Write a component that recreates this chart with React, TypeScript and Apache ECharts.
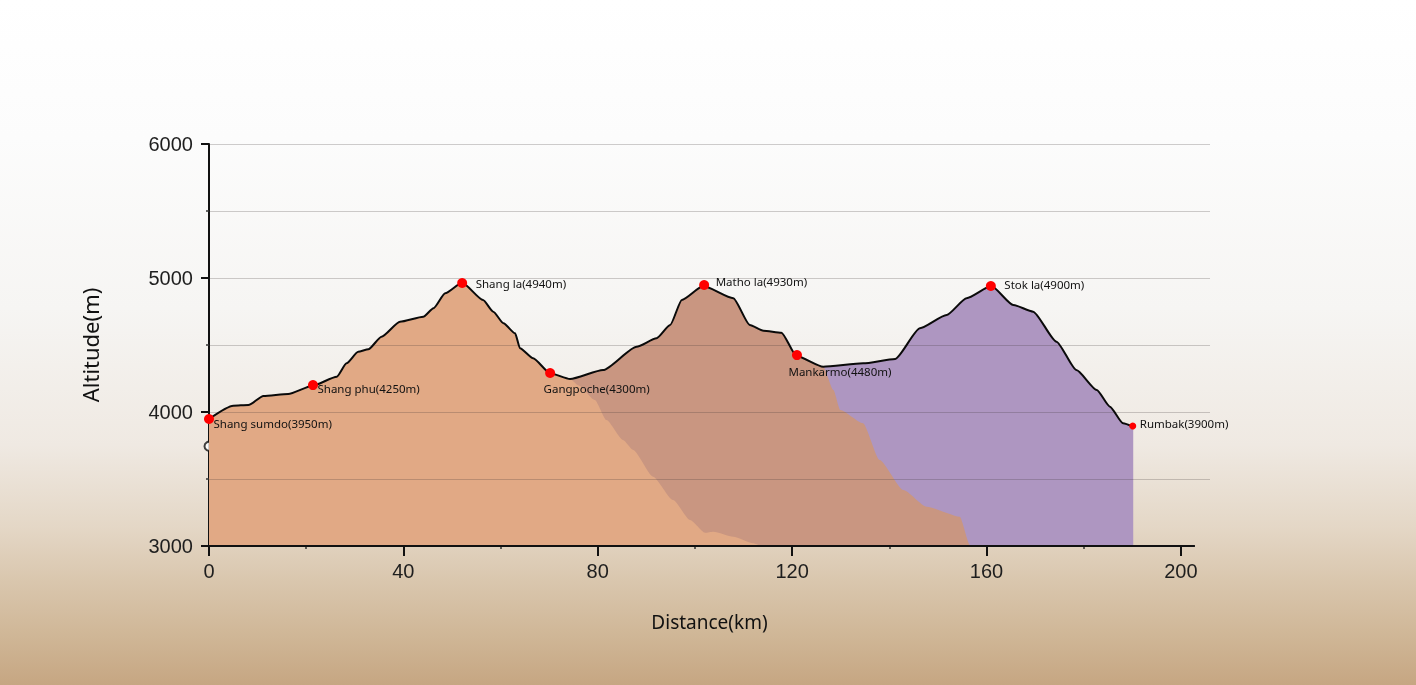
import React, { useEffect, useRef } from 'react';
import * as echarts from 'echarts';

// Elevation profile (km, m)
const profileKm = [0, 5.0, 8.1, 11.2, 16.3, 21.3, 26.3, 28.3, 30.7, 32.8, 35.5, 39.3, 44.1, 46.2, 48.6, 52.1, 56.4, 58.5, 60.6, 63.0, 64.0, 66.7, 70.2, 74.3, 81.1, 88.0, 92.1, 94.9, 97.3, 101.7, 107.9, 111.3, 114.1, 117.8, 120.9, 126.4, 134.6, 141.2, 146.3, 151.8, 155.9, 161.0, 165.5, 169.6, 174.4, 178.5, 182.7, 185.4, 188.1, 190.2];
const profileAlt = [3948, 4047, 4052, 4119, 4134, 4196, 4263, 4363, 4450, 4468, 4562, 4674, 4711, 4774, 4886, 4965, 4836, 4749, 4662, 4587, 4475, 4401, 4289, 4246, 4313, 4487, 4550, 4649, 4836, 4940, 4849, 4649, 4607, 4592, 4418, 4338, 4363, 4396, 4625, 4724, 4849, 4940, 4799, 4749, 4525, 4313, 4164, 4040, 3916, 3890];

// Lower edges of the shaded mountain bands
const orangeEdgeKm = [76.0, 79.4, 81.8, 85.2, 87.3, 91.4, 95.5, 99.0, 102.1, 103.8, 107.9, 112.0, 113.4];
const orangeEdgeAlt = [4200, 4090, 3940, 3791, 3716, 3517, 3343, 3194, 3099, 3107, 3069, 3020, 3000];
const brownEdgeKm = [128.5, 129.9, 134.6, 138.0, 142.9, 147.7, 154.5, 156.6, 156.8];
const brownEdgeAlt = [4164, 4015, 3916, 3642, 3418, 3293, 3219, 3007, 3000];

// Waypoints
const waypointNames = ['Shang sumdo', 'Shang phu', 'Shang la', 'Gangpoche', 'Matho la', 'Mankarmo', 'Stok la', 'Rumbak'];
const waypointLabelAlt = [3950, 4250, 4940, 4300, 4930, 4480, 4900, 3900];
const waypointKm = [0, 21.4, 52.1, 70.2, 101.9, 121.0, 160.9, 190.1];
const waypointAlt = [3948, 4201, 4963, 4291, 4948, 4425, 4940, 3896];

// Axis ticks / grid
const xTicks = [0, 40, 80, 120, 160, 200];
const gridAlts = [3500, 4000, 4500, 5000, 5500, 6000];
const startRingKm = [0];
const startRingAlt = [3745];

// layout (not data)
const X_MAX = 206;
const X_AXIS_END = 202.9;
const labelPos: number[][] = [[9.5, 3.5], [9.5, 2.5], [18.5, -0.5], [-1.5, 14.5], [16.5, -4.5], [-3.5, 15.5], [18.5, -2.5], [10.5, -4.5]];
const symbolSizes = [10, 10, 10, 10, 10, 10, 10, 7];

const pairs = (xs: number[], ys: number[]) => xs.map((x, i) => [x, ys[i]]);

export default function App() {
  const ref = useRef<HTMLDivElement>(null);
  useEffect(() => {
    if (!ref.current) return;
    const chart = echarts.init(ref.current, undefined, { renderer: 'svg' });
    const profile = pairs(profileKm, profileAlt);
    const orangeArea = pairs(profileKm.slice(0, 24), profileAlt.slice(0, 24)).concat(pairs(orangeEdgeKm, orangeEdgeAlt));
    const brownArea = pairs(profileKm.slice(0, 36), profileAlt.slice(0, 36)).concat(pairs(brownEdgeKm, brownEdgeAlt));
    const areaSeries = (name: string, data: number[][], color: string) => ({
      name,
      type: 'line',
      data,
      z: 2,
      silent: true,
      showSymbol: false,
      symbol: 'none',
      smooth: 0.2,
      smoothMonotone: 'x',
      lineStyle: { width: 0, opacity: 0 },
      areaStyle: { color, opacity: 1 },
    });
    chart.setOption({
      animation: false,
      graphic: [
        {
          type: 'rect',
          z: -100,
          silent: true,
          shape: { x: 0, y: 0, width: 1416, height: 685 },
          style: {
            fill: new echarts.graphic.LinearGradient(0, 0, 0, 1, [
              { offset: 0, color: '#ffffff' },
              { offset: 0.2, color: '#fcfcfc' },
              { offset: 0.45, color: '#f6f5f3' },
              { offset: 0.65, color: '#efe9e2' },
              { offset: 0.77, color: '#e4d7c6' },
              { offset: 0.85, color: '#d9c6ad' },
              { offset: 0.93, color: '#cfb696' },
              { offset: 1, color: '#c6a682' },
            ]),
          },
        },
      ],
      grid: { left: 209, top: 144, width: 1001, height: 402 },
      xAxis: {
        type: 'value',
        min: 0,
        max: X_MAX,
        interval: 40,
        name: 'Distance(km)',
        nameLocation: 'middle',
        nameGap: 66,
        nameTextStyle: { fontFamily: 'Noto Sans', fontSize: 19, color: '#111' },
        axisLine: { show: false },
        axisTick: { show: true, customValues: xTicks, length: 10, inside: false, lineStyle: { color: '#111', width: 2 } },
        minorTick: { show: true, splitNumber: 2, length: 3, lineStyle: { color: '#333', width: 1.5 } },
        axisLabel: { customValues: xTicks, margin: 15, fontFamily: 'Liberation Sans', fontSize: 20, color: '#1e1e1e', formatter: (v: number) => String(v) },
        splitLine: { show: false },
      },
      yAxis: {
        type: 'value',
        min: 3000,
        max: 6000,
        interval: 1000,
        name: 'Altitude(m)',
        nameLocation: 'middle',
        nameGap: 108,
        nameTextStyle: { fontFamily: 'Noto Sans', fontSize: 22, color: '#111' },
        axisLine: { show: true, lineStyle: { color: '#111', width: 2 } },
        axisTick: { show: true, length: 8, lineStyle: { color: '#111', width: 2 } },
        minorTick: { show: true, splitNumber: 2, length: 3, lineStyle: { color: '#333', width: 1.5 } },
        axisLabel: { margin: 16, fontFamily: 'Liberation Sans', fontSize: 20, color: '#1e1e1e', formatter: (v: number) => String(v) },
        splitLine: { show: false },
      },
      series: [
        {
          name: 'ring',
          type: 'scatter',
          z: 1,
          silent: true,
          symbol: 'emptyCircle',
          symbolSize: 9,
          itemStyle: { color: '#111', borderColor: '#111', borderWidth: 1.6 },
          data: pairs(startRingKm, startRingAlt),
        },
        areaSeries('purple', profile, '#ae96c1'),
        areaSeries('brown', brownArea, '#c99681'),
        areaSeries('orange', orangeArea, '#e1a985'),
        {
          name: 'grid',
          type: 'line',
          data: [],
          silent: true,
          markLine: {
            z: 3,
            silent: true,
            symbol: 'none',
            label: { show: false },
            lineStyle: { color: 'rgba(60,50,50,0.24)', width: 1.2, type: 'solid' },
            data: [
              ...gridAlts.map((v) => ({ yAxis: v })),
              [
                { coord: [0, 3000], lineStyle: { color: '#111', width: 2, type: 'solid' } },
                { coord: [X_AXIS_END, 3000] },
              ],
            ],
          },
        },
        {
          name: 'profile',
          type: 'line',
          data: profile,
          z: 4,
          silent: true,
          showSymbol: false,
          symbol: 'none',
          smooth: 0.2,
          smoothMonotone: 'x',
          lineStyle: { color: '#0a0a0a', width: 2 },
        },
        {
          name: 'waypoints',
          type: 'scatter',
          z: 5,
          silent: true,
          data: waypointNames.map((n, i) => ({
            name: n,
            value: [waypointKm[i], waypointAlt[i]],
            symbolSize: symbolSizes[i],
            label: { position: labelPos[i] },
          })),
          itemStyle: { color: '#ff0000', opacity: 1 },
          label: {
            show: true,
            fontFamily: 'Noto Sans',
            fontSize: 11.5,
            color: '#111',
            formatter: (p: any) => `${waypointNames[p.dataIndex]}(${waypointLabelAlt[p.dataIndex]}m)`,
          },
        },
      ],
    });
    return () => chart.dispose();
  }, []);
  return <div ref={ref} style={{ position: 'fixed', left: 0, top: 0, width: 1416, height: 685 }} />;
}
